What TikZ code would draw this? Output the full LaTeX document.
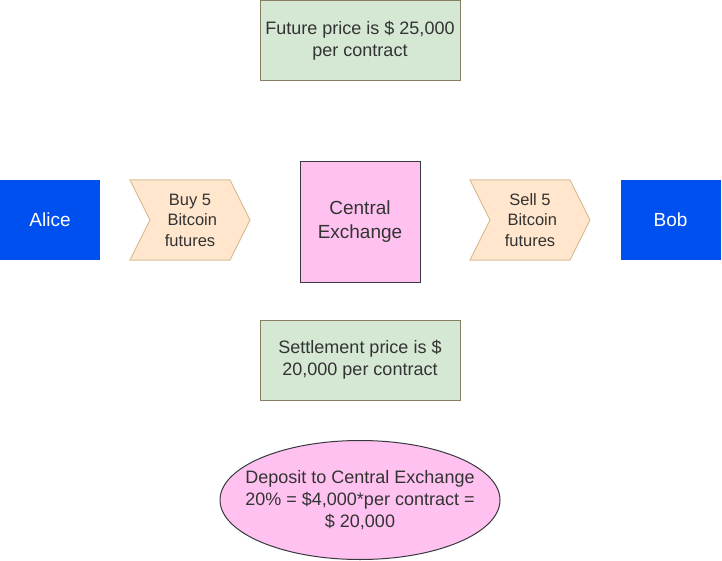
\documentclass[tikz,border=0pt]{standalone}
\usepackage{fontspec}
\setmainfont{Liberation Sans}
\usepackage{xcolor}
\usetikzlibrary{shapes.geometric,shapes.symbols}
\definecolor{pricegreen}{HTML}{D5E8D4}
\definecolor{priceline}{HTML}{867D62}
\definecolor{orderfill}{HTML}{FFE6CC}
\definecolor{orderline}{HTML}{D8BE9A}
\definecolor{tradeblue}{HTML}{0050EF}
\definecolor{hubpink}{HTML}{FFC2F0}
\definecolor{darkline}{HTML}{36393D}
\definecolor{darktext}{HTML}{333333}
\tikzset{
    pricebox/.style={rectangle, draw=priceline, fill=pricegreen, line width=1pt,
        minimum width=200pt, minimum height=80pt, inner sep=0pt, align=center,
        text=darktext, font=\fontsize{18}{22}\selectfont},
    trader/.style={rectangle, fill=tradeblue, minimum width=100pt,
        minimum height=80pt, inner sep=0pt, text=white,
        font=\fontsize{19}{23}\selectfont},
    order/.style={signal, signal from=west, signal to=east,
        signal pointer angle=127, draw=orderline, fill=orderfill, line width=1pt,
        minimum width=120pt, minimum height=80pt, inner sep=0pt, align=center,
        text=darktext, font=\fontsize{16.5}{20.5}\selectfont},
    hub/.style={rectangle, draw=darkline, fill=hubpink, line width=1pt,
        minimum width=120pt, minimum height=120pt, inner sep=0pt, align=center,
        text=darktext, font=\fontsize{19}{24}\selectfont}
}

\begin{document}
\begin{tikzpicture}[x=1pt,y=-1pt]
    \useasboundingbox (0,0) rectangle (722,561);
    % prices
    \node[pricebox] (future) at (360,40.5) {Future price is \$ 25,000\\per contract};
    \node[pricebox] (settle) at (360,360) {Settlement price is \$\\20,000 per contract};
    % traders and orders
    \node[trader] (alice) at (50,220) {Alice};
    \node[order] (buy) at (190,220) {Buy 5\\\ Bitcoin\\futures};
    \node[hub] (exchange) at (360,222) {Central\\Exchange};
    \node[order] (sell) at (530,220) {Sell 5\\\ Bitcoin\\futures};
    \node[trader] (bob) at (670.5,220) {Bob};
    % margin
    \node[ellipse, draw=darkline, fill=hubpink, line width=1pt, minimum width=280pt,
        minimum height=119pt, inner xsep=-22pt, inner ysep=0pt, align=center,
        text=darktext, font=\fontsize{18}{22}\selectfont] (deposit) at (360,500)
        {Deposit to Central Exchange\\20\% = \$4,000*per contract =\\\$ 20,000};
\end{tikzpicture}
\end{document}
